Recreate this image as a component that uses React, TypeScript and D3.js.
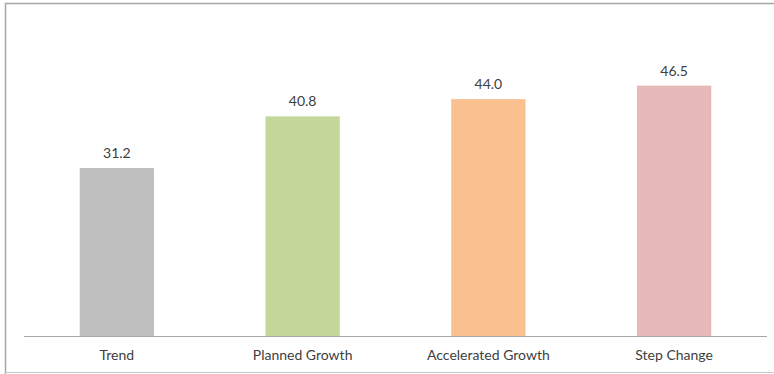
import React from "react";
import * as d3 from "d3";

const categories = ["Trend", "Planned Growth", "Accelerated Growth", "Step Change"];
const values = [31.2, 40.8, 44.0, 46.5];
const colors = ["#bfbfbf", "#c4d79b", "#fac090", "#e6b9b8"];

const W = 774;
const H = 374;

export default function App() {
  const x = d3.scaleBand<string>().domain(categories).range([24, 767]).paddingInner(0.6).paddingOuter(0.3);
  const y = d3.scaleLinear().domain([0, 50]).range([336, 66.8]);
  const font = "Lato, 'Open Sans', sans-serif";
  return (
    <svg width={W} height={H} style={{ position: "absolute", left: 0, top: 0, background: "#fff" }}>
      <rect x={0} y={0} width={W} height={H} fill="#fff" />
      <path d={`M5.5,${H} L5.5,3.5 L${W},3.5`} fill="none" stroke="#a6a6a6" strokeWidth={1.5} />
      <line x1={5} x2={W} y1={372.5} y2={372.5} stroke="#c8c8c8" strokeWidth={1} />
      {categories.map((c, i) => (
        <g key={c}>
          <rect x={x(c)} y={y(values[i])} width={x.bandwidth()} height={y(0) - y(values[i])} fill={colors[i]} />
          <text x={x(c)! + x.bandwidth() / 2} y={y(values[i]) - 10} textAnchor="middle" fontFamily={font} fontSize={14} fill="#404040">
            {values[i].toFixed(1)}
          </text>
          <text x={x(c)! + x.bandwidth() / 2} y={360} textAnchor="middle" fontFamily={font} fontSize={14} fill="#404040">
            {c}
          </text>
        </g>
      ))}
      <line x1={24} x2={767} y1={336.5} y2={336.5} stroke="#a6a6a6" strokeWidth={1} />
    </svg>
  );
}
